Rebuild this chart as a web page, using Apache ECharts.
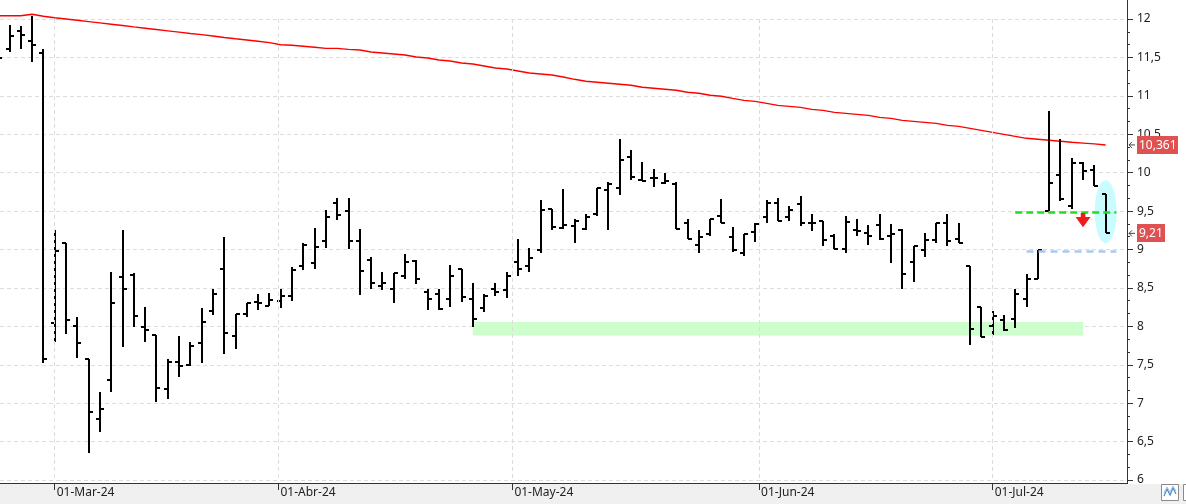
<!DOCTYPE html>
<html><head><meta charset="utf-8">
<script src="https://cdn.jsdelivr.net/npm/echarts@6/dist/echarts.min.js"></script>
<style>html,body{margin:0;padding:0;background:#fff;}#c{width:1186px;height:504px;}</style>
</head><body><div id="c"></div>
<script>
// ---- data ----
const tradingStart = '2024-02-23';
const tradingEnd = '2024-07-15';
const holidays = ['2024-03-29', '2024-04-01', '2024-05-01'];
const monthStarts = ['2024-03-01', '2024-04-01', '2024-05-01', '2024-06-01', '2024-07-01'];
const monthLabels = ['01-Mar-24', '01-Abr-24', '01-May-24', '01-Jun-24', '01-Jul-24'];

const open = [11.60,11.61,11.84,11.71,11.56,8.04,9.09,8.01,7.57,6.80,
7.30,8.64,8.67,7.99,7.89,7.18,7.53,7.50,7.78,8.20,
8.74,7.88,8.155,8.32,8.27,8.33,8.40,8.78,8.82,9.11,
9.61,9.50,9.11,8.86,8.53,8.48,8.66,8.85,8.45,8.42,
8.35,8.75,8.35,8.24,8.49,8.47,8.84,8.79,9.00,9.53,
9.28,9.31,9.27,9.46,9.78,9.80,10.20,9.91,9.93,9.86,
9.85,9.34,9.06,9.20,9.43,9.16,8.95,9.23,9.42,9.61,
9.42,9.59,9.35,9.37,9.17,9.01,9.26,9.22,9.32,9.17,
9.26,8.84,8.99,9.13,9.35,9.14,8.78,8.25,8.00,8.08,
8.10,8.35,8.62,9.50,9.97,9.56,10.13,10.03,9.72];
const high = [11.70,11.92,11.91,12.04,11.61,9.25,9.09,8.12,7.58,7.14,
8.71,9.25,8.70,8.25,7.89,7.58,7.87,7.79,8.24,8.49,
9.16,8.155,8.31,8.42,8.43,8.49,8.77,9.08,9.28,9.51,
9.67,9.67,9.27,8.90,8.71,8.69,8.94,8.86,8.48,8.48,
8.80,8.75,8.56,8.42,8.57,8.71,9.14,9.02,9.64,9.53,
9.79,9.40,9.46,9.80,9.88,10.44,10.29,10.14,10.05,10.00,
9.88,9.40,9.25,9.40,9.66,9.29,9.20,9.34,9.65,9.67,
9.56,9.70,9.46,9.37,9.20,9.43,9.40,9.32,9.46,9.33,
9.27,9.04,9.22,9.35,9.46,9.35,8.78,8.25,8.20,8.15,
8.49,8.68,9.00,10.80,10.44,10.19,10.14,10.10,9.72];
const low = [11.45,11.57,11.61,11.44,7.52,7.79,7.90,7.59,6.35,6.63,
7.15,7.73,7.99,7.80,7.02,7.06,7.34,7.49,7.52,8.15,
7.64,7.71,8.12,8.21,8.27,8.24,8.33,8.73,8.74,9.02,
9.38,9.01,8.41,8.48,8.47,8.31,8.61,8.55,8.21,8.21,
8.25,8.32,7.99,8.19,8.40,8.37,8.66,8.71,8.95,9.25,
9.27,9.09,9.26,9.44,9.26,9.71,9.91,9.89,9.81,9.85,
9.27,9.14,8.95,9.17,9.34,8.97,8.91,9.10,9.35,9.37,
9.37,9.30,9.24,9.05,9.01,8.96,9.17,9.06,9.12,8.83,
8.48,8.58,8.90,9.08,9.05,9.08,7.76,7.86,7.89,7.94,
7.98,8.25,8.62,9.50,9.63,9.53,9.90,9.83,9.21];
const close = [11.49,11.78,11.79,11.66,7.58,8.98,8.08,7.78,6.89,6.93,
8.30,8.48,8.14,7.95,7.20,7.53,7.49,7.74,8.06,8.42,
7.91,8.155,8.31,8.30,8.34,8.39,8.73,9.06,9.03,9.42,
9.45,9.11,8.72,8.57,8.57,8.69,8.84,8.61,8.35,8.22,
8.65,8.38,8.09,8.39,8.45,8.65,8.74,8.89,9.52,9.29,
9.32,9.37,9.42,9.80,9.85,10.17,9.95,9.89,9.93,9.89,
9.27,9.14,9.16,9.40,9.34,9.00,9.20,9.33,9.61,9.37,
9.52,9.35,9.35,9.12,9.01,9.36,9.24,9.18,9.14,9.20,
8.68,9.04,9.12,9.35,9.11,9.08,7.97,7.86,8.13,7.95,
8.42,8.62,9.00,9.865,9.66,10.13,10.02,9.83,9.21];
const ma200 = [12.043,12.043,12.043,12.061,12.035,12.017,12.000,11.983,11.966,11.949,
11.932,11.915,11.897,11.880,11.863,11.846,11.829,11.811,11.796,11.779,
11.760,11.743,11.727,11.710,11.693,11.665,11.658,11.645,11.632,11.618,
11.618,11.605,11.596,11.570,11.557,11.544,11.531,11.505,11.492,11.466,
11.453,11.427,11.414,11.388,11.362,11.349,11.323,11.297,11.284,11.271,
11.245,11.215,11.189,11.176,11.163,11.150,11.137,11.111,11.098,11.085,
11.072,11.046,11.033,11.007,10.994,10.967,10.941,10.928,10.902,10.876,
10.863,10.850,10.824,10.811,10.785,10.772,10.759,10.746,10.720,10.707,
10.681,10.668,10.655,10.642,10.616,10.603,10.577,10.551,10.525,10.499,
10.473,10.447,10.434,10.421,10.408,10.395,10.385,10.375,10.361];

const supportZone = [7.88, 8.055];      // green band
const supportZoneBars = [42, 96];
const greenLevel = 9.487;               // green dashed line
const greenLevelBars = [90, 98.95];
const blueLevel = 8.983;                // blue dashed line
const blueLevelBars = [91, 98.95];
const arrowLevels = [9.474, 9.29];      // red down arrow (top, tip)
const arrowBar = 96;
const ellipseCenter = [98, 9.491];
const lastClose = 9.21;
const lastMA = 10.361;

// ---- trading days & month positions ----
function parseD(s){const p=s.split('-').map(Number);return Date.UTC(p[0],p[1]-1,p[2]);}
const hol = new Set(holidays.map(parseD));
const dates = [];
for (let t = parseD(tradingStart); t <= parseD(tradingEnd); t += 86400000) {
  const wd = new Date(t).getUTCDay();
  if (wd === 0 || wd === 6 || hol.has(t)) continue;
  dates.push(t);
}
const monthPos = monthStarts.map(s => {
  const t = parseD(s);
  let j = dates.findIndex(d => d >= t);
  if (dates[j] === t) return j;
  return (j - 1) + (t - dates[j - 1]) / (dates[j] - dates[j - 1]);
});

const ohlc = dates.map((d, i) => [i, open[i], close[i], low[i], high[i]]);
const maData = dates.map((d, i) => [i, ma200[i]]);
const fmt = v => String(v).replace('.', ',');
const FONT = '"Noto Sans", "Open Sans", sans-serif';

const chart = echarts.init(document.getElementById('c'), null, {renderer: 'canvas'});
chart.setOption({
  animation: false,
  backgroundColor: '#ffffff',
  grid: {left: 0, right: 59, top: 19, bottom: 24},
  xAxis: {
    type: 'value', min: 0.159, max: 99.889, z: 10, offset: 3,
    axisLine: {show: true, onZero: false, lineStyle: {color: '#333', width: 1}},
    axisTick: {show: true, customValues: monthPos, length: 7, lineStyle: {color: '#333'}},
    axisLabel: {
      customValues: monthPos, align: 'left', margin: 4, color: '#222',
      fontFamily: FONT, fontSize: 12, padding: [0, 0, 0, 2],
      formatter: v => { let k = 0, b = 1e9; monthPos.forEach((p, i) => { if (Math.abs(p - v) < b) { b = Math.abs(p - v); k = i; } }); return monthLabels[k]; }
    },
    splitLine: {show: true, lineStyle: {color: '#dcdcdc', type: [4, 3], width: 1}}
  },
  yAxis: {
    type: 'value', position: 'right', min: 6, max: 12, interval: 0.5, z: 0,
    axisLine: {show: true, lineStyle: {color: '#333'}},
    axisTick: {show: true, length: 6, lineStyle: {color: '#333'}},
    minorTick: {show: true, splitNumber: 3, length: 3, lineStyle: {color: '#333'}},
    axisLabel: {margin: 10, color: '#222', fontFamily: FONT, fontSize: 12, formatter: fmt},
    splitLine: {show: true, lineStyle: {color: '#dcdcdc', type: [4, 3], width: 1}}
  },
  series: [
    {
      type: 'line', name: 'MA', data: maData, showSymbol: false, clip: false, z: 3,
      lineStyle: {color: '#ff0000', width: 1.4}, silent: true,
      markArea: {
        silent: true, itemStyle: {color: '#ccffcc'},
        data: [[{coord: [supportZoneBars[0], supportZone[1]]}, {coord: [supportZoneBars[1], supportZone[0]]}]]
      },
      markLine: {
        silent: true, symbol: 'none', label: {show: false},
        data: [
          [{coord: [greenLevelBars[0], greenLevel], lineStyle: {color: '#22dd22', width: 2.5, type: [7, 4]}},
           {coord: [greenLevelBars[1], greenLevel]}],
          [{coord: [blueLevelBars[0], blueLevel], lineStyle: {color: '#a9c9ee', width: 2.5, type: [7, 5]}},
           {coord: [blueLevelBars[1], blueLevel]}]
        ]
      }
    },
    {
      type: 'custom', name: 'OHLC', data: ohlc, clip: false, z: 4, silent: true,
      encode: {x: 0, y: [1, 2, 3, 4]},
      renderItem: (params, api) => {
        const x = api.value(0);
        const o = api.coord([x, api.value(1)]);
        const c = api.coord([x, api.value(2)]);
        const l = api.coord([x, api.value(3)]);
        const h = api.coord([x, api.value(4)]);
        const X = Math.round(o[0]);
        const st = {fill: '#000'};
        return {type: 'group', children: [
          {type: 'rect', shape: {x: X - 1, y: Math.round(h[1]), width: 2, height: Math.max(2, Math.round(l[1]) - Math.round(h[1]))}, style: st},
          {type: 'rect', shape: {x: X - 4, y: Math.round(o[1]) - 1, width: 4, height: 2}, style: st},
          {type: 'rect', shape: {x: X, y: Math.round(c[1]) - 1, width: 4, height: 2}, style: st}
        ]};
      }
    }
  ]
});

// ---- annotations positioned through the chart's scales ----
const P = (x, y) => chart.convertToPixel({xAxisIndex: 0, yAxisIndex: 0}, [x, y]);
const yMA = P(0, lastMA)[1], yLC = P(0, lastClose)[1];
const ec = P(ellipseCenter[0], ellipseCenter[1]);
const aTop = P(arrowBar, arrowLevels[0]), aTip = P(arrowBar, arrowLevels[1]);
const ax = aTop[0], ty = aTop[1], tip = aTip[1];

function priceTag(y, txt, w) {
  return [
    {type: 'polyline', z: 20, shape: {points: [[1135, y], [1129, y]]}, style: {stroke: '#444', lineWidth: 1}},
    {type: 'polyline', z: 20, shape: {points: [[1132, y - 3], [1129, y], [1132, y + 3]]}, style: {stroke: '#444', lineWidth: 1, fill: null}},
    {type: 'rect', z: 20, shape: {x: 1137, y: Math.round(y) - 9, width: w, height: 18}, style: {fill: '#e05252'}},
    {type: 'text', z: 21, style: {text: txt, x: 1139, y: Math.round(y) + 0.5, fill: '#fff', font: '12px ' + FONT, verticalAlign: 'middle'}}
  ];
}

chart.setOption({graphic: {elements: [
  {type: 'ellipse', z: 1, shape: {cx: ec[0], cy: ec[1], rx: 11, ry: 31.5}, style: {fill: '#c9fcff'}},
  {type: 'polygon', z: 6, shape: {points: [
    [ax - 2.3, ty], [ax + 2.3, ty], [ax + 2.3, ty + 4], [ax + 7.5, ty + 4], [ax, tip], [ax - 7.5, ty + 4], [ax - 2.3, ty + 4]
  ]}, style: {fill: '#ee1c1c'}},
  {type: 'rect', z: 5, shape: {x: 0, y: 484, width: 1186, height: 20}, style: {fill: '#f0f0f0'}},
  {type: 'line', z: 12, shape: {x1: 1127.5, y1: 0, x2: 1127.5, y2: 484}, style: {stroke: '#333', lineWidth: 1}},
  {type: 'line', z: 12, shape: {x1: 0, y1: 483.5, x2: 1128, y2: 483.5}, style: {stroke: '#333', lineWidth: 1}},
  {type: 'rect', z: 12, shape: {x: 1161.5, y: 484.5, width: 17, height: 16}, style: {fill: '#fff', stroke: '#8a8a8a', lineWidth: 1}},
  {type: 'polyline', z: 13, shape: {points: [[1164, 496], [1167, 489], [1170, 495], [1173, 488], [1176, 494]]}, style: {stroke: '#4a8ad0', lineWidth: 1.2, fill: null}},
  {type: 'polyline', z: 13, shape: {points: [[1164, 493], [1167, 487], [1170, 492], [1173, 486], [1176, 491]]}, style: {stroke: '#9cc0e8', lineWidth: 1, fill: null}},
  {type: 'rect', z: 12, shape: {x: 1183.5, y: 484.5, width: 10, height: 16}, style: {fill: '#fff', stroke: '#8a8a8a', lineWidth: 1}},
  ...priceTag(yMA, fmt(lastMA), 41),
  ...priceTag(yLC, fmt(lastClose), 28)
]}});
</script>
</body></html>
